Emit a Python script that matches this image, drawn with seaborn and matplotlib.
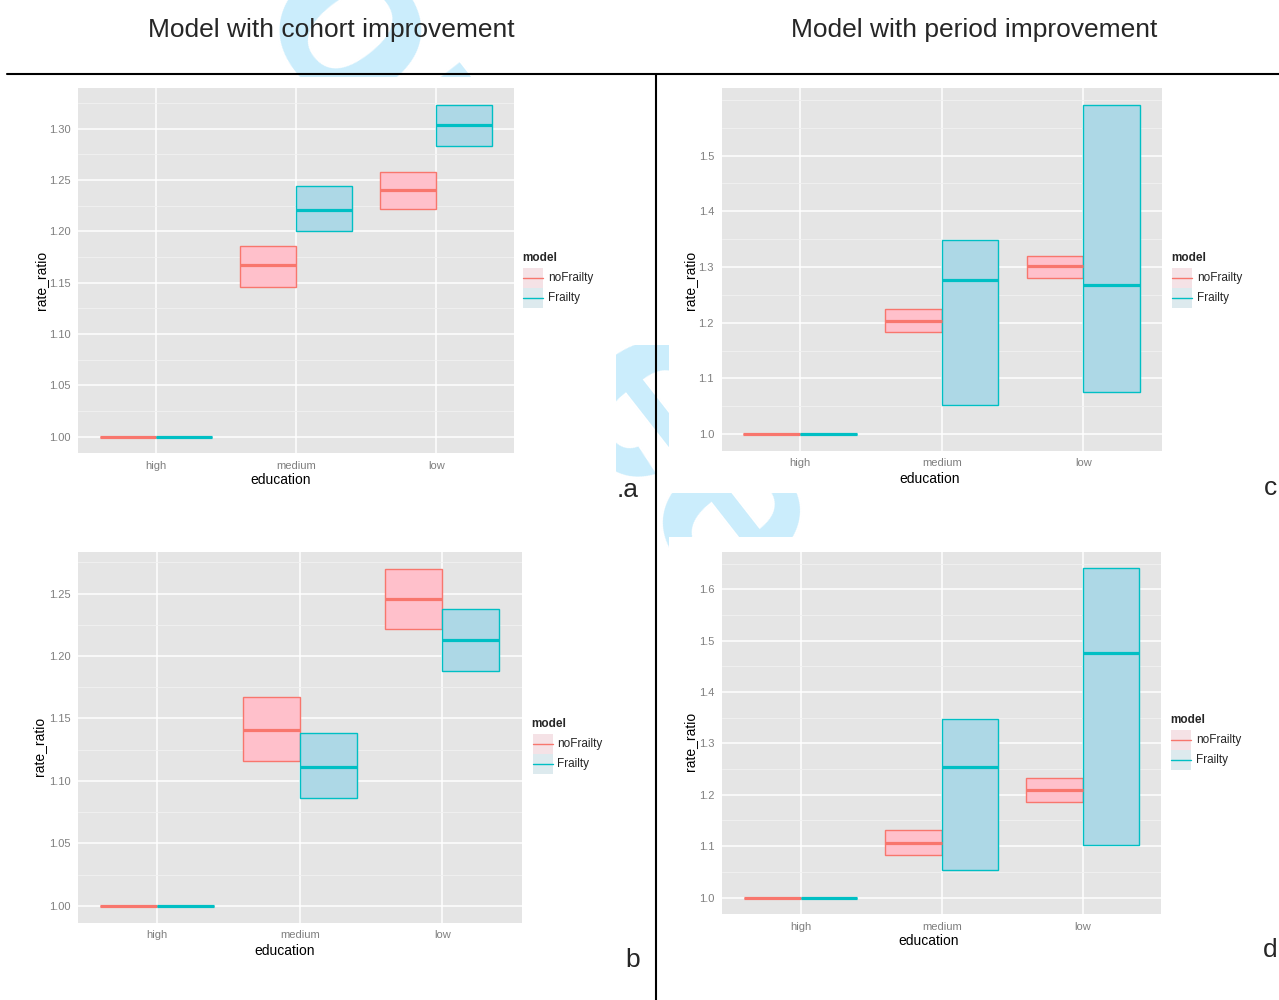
import matplotlib
matplotlib.use("Agg")
import numpy as np
import pandas as pd
import matplotlib.pyplot as plt
import seaborn as sns
from matplotlib.lines import Line2D
from matplotlib.patches import Rectangle
from matplotlib.ticker import FixedLocator, MultipleLocator, FormatStrFormatter

W, H = 1279, 1000

education = ["high", "medium", "low"]
models = ["noFrailty", "Frailty"]

# a: cohort improvement (top)
a_nf_mid = [1.000, 1.167, 1.240]
a_nf_lo = [1.000, 1.146, 1.222]
a_nf_hi = [1.000, 1.186, 1.258]
a_fr_mid = [1.000, 1.221, 1.303]
a_fr_lo = [1.000, 1.200, 1.283]
a_fr_hi = [1.000, 1.244, 1.323]
a_ticks = [1.00, 1.05, 1.10, 1.15, 1.20, 1.25, 1.30]

# b: cohort improvement (bottom)
b_nf_mid = [1.000, 1.141, 1.246]
b_nf_lo = [1.000, 1.116, 1.222]
b_nf_hi = [1.000, 1.167, 1.270]
b_fr_mid = [1.000, 1.111, 1.213]
b_fr_lo = [1.000, 1.086, 1.188]
b_fr_hi = [1.000, 1.138, 1.238]
b_ticks = [1.00, 1.05, 1.10, 1.15, 1.20, 1.25]

# c: period improvement (top)
c_nf_mid = [1.000, 1.204, 1.301]
c_nf_lo = [1.000, 1.183, 1.281]
c_nf_hi = [1.000, 1.225, 1.320]
c_fr_mid = [1.000, 1.277, 1.268]
c_fr_lo = [1.000, 1.053, 1.075]
c_fr_hi = [1.000, 1.349, 1.591]
c_ticks = [1.0, 1.1, 1.2, 1.3, 1.4, 1.5]

# d: period improvement (bottom)
d_nf_mid = [1.000, 1.107, 1.209]
d_nf_lo = [1.000, 1.083, 1.185]
d_nf_hi = [1.000, 1.132, 1.232]
d_fr_mid = [1.000, 1.254, 1.476]
d_fr_lo = [1.000, 1.053, 1.103]
d_fr_hi = [1.000, 1.347, 1.641]
d_ticks = [1.0, 1.1, 1.2, 1.3, 1.4, 1.5, 1.6]

FILL = {"noFrailty": "pink", "Frailty": "lightblue"}
LINE = {"noFrailty": "#F8766D", "Frailty": "#00BFC4"}
TICK_GREY = "#7F7F7F"

sns.set_theme(style="darkgrid", rc={
    "axes.facecolor": "#E5E5E5",
    "grid.color": "white",
    "figure.facecolor": "white",
})
plt.rcParams["font.family"] = ["Liberation Sans", "DejaVu Sans"]

fig = plt.figure(figsize=(W / 100, H / 100), dpi=100)


def fx(x):
    return x / W


def fy(y):
    return 1 - y / H


def make_df(nf_mid, nf_lo, nf_hi, fr_mid, fr_lo, fr_hi):
    rows = []
    for model, mid, lo, hi in [("noFrailty", nf_mid, nf_lo, nf_hi), ("Frailty", fr_mid, fr_lo, fr_hi)]:
        for edu, m, l, h in zip(education, mid, lo, hi):
            rows.append((edu, model, m, l, h))
    df = pd.DataFrame(rows, columns=["education", "model", "rate_ratio", "lower", "upper"])
    df["span"] = df["upper"] - df["lower"]
    return df


def draw_panel(box, df, ticks, fmt, ylab_xy, xlab_xy, legend_xy):
    left, top, right, bottom = box
    ax = fig.add_axes([fx(left), fy(bottom), (right - left) / W, (bottom - top) / H])

    sns.barplot(data=df, x="education", y="span", hue="model", order=education,
                hue_order=models, palette=FILL, saturation=1, errorbar=None,
                width=0.8, legend=False, linewidth=1.0, ax=ax)

    # move every bar onto its lower bound, draw the crossbar middle line
    for p in ax.patches:
        cx = p.get_x() + p.get_width() / 2
        i = int(round(cx))
        model = models[0] if cx < i else models[1]
        row = df[(df["education"] == education[i]) & (df["model"] == model)].iloc[0]
        p.set_y(row["lower"])
        p.set_edgecolor(LINE[model])
        p.set_zorder(2)
        ax.hlines(row["rate_ratio"], p.get_x(), p.get_x() + p.get_width(),
                  color=LINE[model], lw=2.3, zorder=3)

    lo, hi = df["lower"].min(), df["upper"].max()
    pad = 0.05 * (hi - lo)
    ax.set_ylim(lo - pad, hi + pad)
    ax.set_xlim(-0.555, 2.555)

    step = ticks[1] - ticks[0]
    ax.yaxis.set_major_locator(FixedLocator(ticks))
    ax.yaxis.set_minor_locator(MultipleLocator(step / 2))
    ax.yaxis.set_major_formatter(FormatStrFormatter(fmt))
    ax.set_axisbelow(True)
    ax.grid(which="major", color="white", lw=1.1)
    ax.xaxis.grid(True, which="major", color="white", lw=1.1)
    ax.yaxis.grid(True, which="minor", color="#F2F2F2", lw=0.6)
    for s in ax.spines.values():
        s.set_visible(False)

    ax.tick_params(axis="both", which="major", length=3.6, width=0.8, color=TICK_GREY,
                   labelcolor=TICK_GREY, labelsize=8, pad=1.8, direction="out")
    ax.tick_params(which="minor", length=0)

    ax.set_xlabel("education", fontsize=10, color="black")
    ax.set_ylabel("rate_ratio", fontsize=10, color="black")
    ax.xaxis.label.set_va("center")
    ax.yaxis.label.set_va("center")
    w, h = right - left, bottom - top
    ax.xaxis.set_label_coords((xlab_xy[0] - left) / w, (bottom - xlab_xy[1]) / h)
    ax.yaxis.set_label_coords((ylab_xy[0] - left) / w, (bottom - ylab_xy[1]) / h)

    # legend drawn like the ggplot guide
    lx, ly = legend_xy
    fig.text(fx(lx), fy(ly), "model", fontsize=8.5, weight="bold", va="center", ha="left")
    for k, m in enumerate(models):
        yc = ly + 20 + 20 * k
        fig.patches.append(Rectangle((fx(lx + 1), fy(yc + 10)), 20 / W, 20 / H,
                                     transform=fig.transFigure, facecolor="#F2F2F2",
                                     edgecolor="none", zorder=1))
        fig.patches.append(Rectangle((fx(lx + 1), fy(yc + 10)), 20 / W, 20 / H,
                                     transform=fig.transFigure, facecolor=FILL[m], alpha=0.3,
                                     edgecolor="none", zorder=1))
        fig.lines.append(Line2D([fx(lx + 1), fx(lx + 21)], [fy(yc), fy(yc)],
                                transform=fig.transFigure, color=LINE[m], lw=1.0, zorder=2))
        fig.text(fx(lx + 26), fy(yc), m, fontsize=8.5, va="center", ha="left")
    return ax


# watermark sitting behind the pasted chart images
fig.text(fx(156), fy(-110), "For Peer Review", rotation=-52, rotation_mode="anchor",
         ha="left", va="baseline", fontsize=180, weight="bold", color="#cbedfc", zorder=-3)
for x0, y0, x1, y1 in [(20, 77, 616, 500), (669, 77, 1279, 493),
                       (20, 540, 620, 1000), (669, 537, 1279, 1000),
                       (616, 77, 669, 345)]:
    fig.patches.append(Rectangle((fx(x0), fy(y1)), (x1 - x0) / W, (y1 - y0) / H,
                                 transform=fig.transFigure, facecolor="white",
                                 edgecolor="none", zorder=-2))

draw_panel((78, 88.3, 514, 453.3), make_df(a_nf_mid, a_nf_lo, a_nf_hi, a_fr_mid, a_fr_lo, a_fr_hi),
           a_ticks, "%.2f", (41, 280), (280.5, 480), (522, 258))
draw_panel((721.5, 88.3, 1162, 450.7), make_df(c_nf_mid, c_nf_lo, c_nf_hi, c_fr_mid, c_fr_lo, c_fr_hi),
           c_ticks, "%.1f", (690, 280), (930, 479), (1171, 257.5))
draw_panel((78, 551.7, 521.6, 922.7), make_df(b_nf_mid, b_nf_lo, b_nf_hi, b_fr_mid, b_fr_lo, b_fr_hi),
           b_ticks, "%.2f", (39.5, 746.7), (284.5, 950.7), (531.5, 724))
draw_panel((722.3, 551.7, 1161.2, 914), make_df(d_nf_mid, d_nf_lo, d_nf_hi, d_fr_mid, d_fr_lo, d_fr_hi),
           d_ticks, "%.1f", (690, 741.7), (929, 941), (1170, 720))

# column titles and separators
fig.text(fx(331.5), fy(36.7), "Model with cohort improvement", fontsize=19, ha="center", va="baseline")
fig.text(fx(974), fy(36.7), "Model with period improvement", fontsize=19, ha="center", va="baseline")
fig.lines.append(Line2D([fx(7), fx(1279)], [fy(73.5), fy(73.5)], transform=fig.transFigure,
                        color="black", lw=1.5))
fig.lines.append(Line2D([fx(656), fx(656)], [fy(73.5), fy(1000)], transform=fig.transFigure,
                        color="black", lw=1.5))

# panel letters
fig.text(fx(639), fy(497), ".a", fontsize=19, ha="right", va="baseline")
fig.text(fx(1277), fy(495), "c", fontsize=19, ha="right", va="baseline")
fig.text(fx(640), fy(967), "b", fontsize=19, ha="right", va="baseline")
fig.text(fx(1277), fy(957), "d", fontsize=19, ha="right", va="baseline")

fig.savefig("out.png", dpi=100, facecolor="white")
